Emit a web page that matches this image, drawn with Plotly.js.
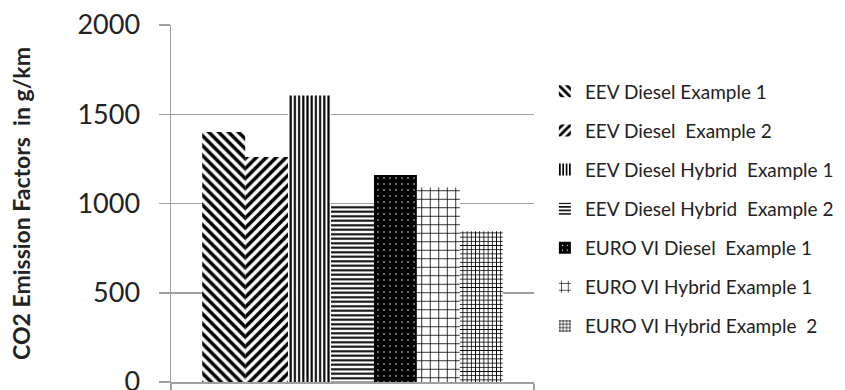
<!DOCTYPE html>
<html>
<head>
<meta charset="utf-8">
<script src="https://cdn.plot.ly/plotly-3.0.1.min.js"></script>
<style>html,body{margin:0;padding:0;background:#fff;}#chart{width:845px;height:390px;}</style>
</head>
<body>
<div id="chart"></div>
<script>
const category = ["CO2"];
const seriesNames = [
  "EEV Diesel Example 1",
  "EEV Diesel  Example 2",
  "EEV Diesel Hybrid  Example 1",
  "EEV Diesel Hybrid  Example 2",
  "EURO VI Diesel  Example 1",
  "EURO VI Hybrid Example 1",
  "EURO VI Hybrid Example  2"
];
const seriesValues = [1400, 1260, 1605, 995, 1160, 1090, 845];
const yTickValues = [0, 500, 1000, 1500, 2000];

const patterns = [
  {shape: "\\", fgcolor: "#000", bgcolor: "#fff", size: 7, solidity: 0.5},
  {shape: "/", fgcolor: "#000", bgcolor: "#fff", size: 7, solidity: 0.5},
  {shape: "|", fgcolor: "#000", bgcolor: "#fff", size: 4.2, solidity: 0.5},
  {shape: "-", fgcolor: "#000", bgcolor: "#fff", size: 4.5, solidity: 0.45},
  {shape: ".", fgcolor: "#fff", bgcolor: "#000", size: 6, solidity: 0.05},
  {shape: "+", fgcolor: "#000", bgcolor: "#fff", size: 8.5, solidity: 0.18},
  {shape: "+", fgcolor: "#000", bgcolor: "#fff", size: 4.2, solidity: 0.35}
];

const FONT = "Lato, 'Open Sans', 'Liberation Sans', sans-serif";

const traces = seriesNames.map((name, i) => ({
  type: "bar",
  name: name,
  x: category,
  y: [seriesValues[i]],
  legendgroup: "g" + i,
  marker: {
    color: patterns[i].bgcolor,
    line: {width: 0},
    pattern: Object.assign({fillmode: "replace"}, patterns[i])
  },
  hoverinfo: "name+y"
}));

const layout = {
  width: 845,
  height: 390,
  margin: {l: 171, r: 311, t: 25, b: 8, pad: 0, autoexpand: false},
  paper_bgcolor: "#fff",
  plot_bgcolor: "#fff",
  barmode: "group",
  bargap: 0.172,
  bargroupgap: 0,
  font: {family: FONT, color: "#222"},
  showlegend: true,
  legend: {
    x: 1.03,
    xanchor: "left",
    y: 0.867,
    yanchor: "top",
    traceorder: "grouped",
    tracegroupgap: 11.4,
    font: {family: FONT, size: 19, color: "#222"},
    bgcolor: "rgba(0,0,0,0)"
  },
  xaxis: {
    type: "category",
    showticklabels: false,
    showgrid: false,
    showline: true,
    linecolor: "#a0a0a0",
    linewidth: 1.5,
    ticks: "outside",
    tickson: "boundaries",
    ticklen: 6,
    tickcolor: "#a0a0a0",
    tickwidth: 1.5,
    zeroline: false,
    fixedrange: true
  },
  yaxis: {
    range: [0, 2000],
    tickvals: yTickValues,
    ticktext: yTickValues.map(String),
    showgrid: true,
    gridcolor: "#a0a0a0",
    gridwidth: 1.5,
    showline: true,
    linecolor: "#a0a0a0",
    linewidth: 1.5,
    ticks: "outside",
    ticklen: 11,
    tickcolor: "#a0a0a0",
    tickwidth: 1.5,
    ticklabelstandoff: 13,
    ticklabeloverflow: "allow",
    zeroline: false,
    tickfont: {family: FONT, size: 27, color: "#222"},
    title: {
      text: "CO2 Emission Factors  in g/km",
      font: {family: FONT, size: 23, color: "#222", weight: "bold"},
      standoff: 40
    },
    fixedrange: true
  }
};

Plotly.newPlot("chart", traces, layout, {displayModeBar: false, staticPlot: true});
</script>
</body>
</html>
